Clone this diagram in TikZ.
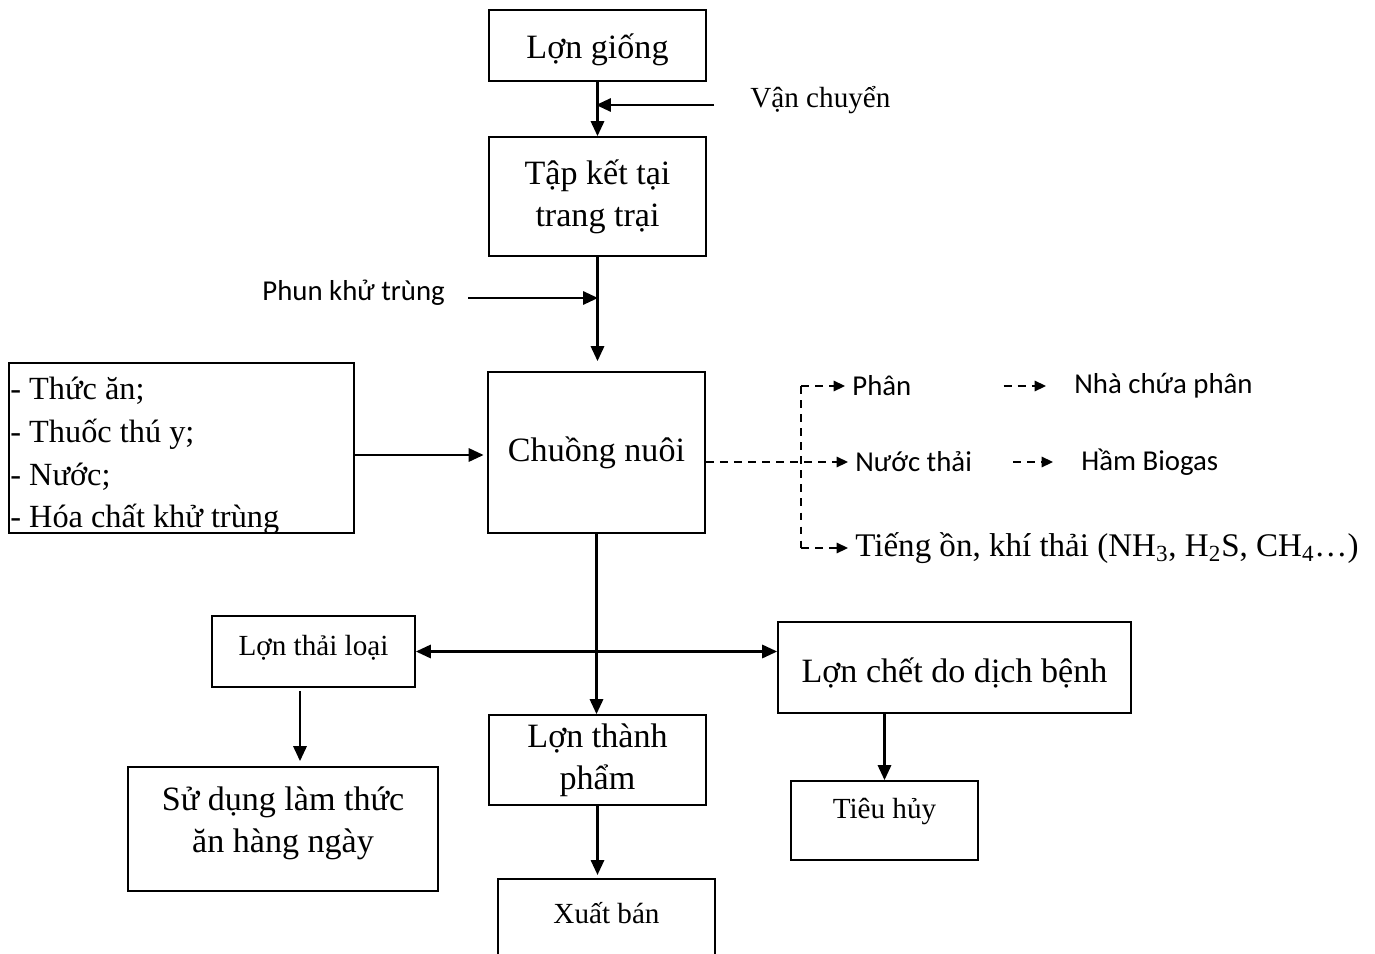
\documentclass[tikz,border=0pt]{standalone}
\usepackage{fontspec}
\setmainfont{Liberation Serif}
\newfontfamily\calibri{Carlito}
\usetikzlibrary{arrows.meta}

\newcommand{\bigtext}{\fontsize{19.4}{23.8}\selectfont}
\newcommand{\smalltext}{\fontsize{16.6}{20}\selectfont}
\newcommand{\listtext}{\fontsize{18.4}{24.2}\selectfont}
\newcommand{\caltext}{\calibri\fontsize{16.4}{20}\selectfont}

\begin{document}
\begin{tikzpicture}[x=0.02cm, y=-0.02cm,
    box/.style={draw, line width=1pt, inner sep=2pt, align=center, font=\bigtext},
    lbl/.style={anchor=west, inner sep=0pt},
    arr/.style={line width=1.4pt, -{Triangle[length=8.5pt,width=7.5pt]}},
    both/.style={line width=1.4pt, {Triangle[length=8.5pt,width=7.5pt]}-{Triangle[length=8.5pt,width=7.5pt]}},
    dline/.style={line width=0.9pt, dash pattern=on 4.5pt off 3.5pt},
    darr/.style={dline, -{Triangle[length=6.5pt,width=6pt]}, shorten >=0.14cm}]
    \useasboundingbox (0,0) rectangle (1375,953);

    % main chain
    \node[box, minimum width=4.34cm, text height=0.98cm, text depth=0.44cm, inner ysep=0pt] (giong) at (597.5,45.5) {Lợn giống};
    \node[box, minimum width=4.34cm, minimum height=2.38cm] (tapket) at (597.5,196.5) {Tập kết tại\\trang trại};
    \node[box, minimum width=4.34cm, minimum height=3.22cm] (chuong) at (596.5,452.5) {Chuồng nuôi};
    \node[box, minimum width=6.9cm, minimum height=3.4cm] (input) at (181.5,448) {};
    \node[lbl, align=left, text width=6.8cm, font=\listtext] (inputlist) at (10,456) {\spaceskip=0pt\xspaceskip=0pt - Thức ăn;\\- Thuốc thú y;\\- Nước;\\- Hóa chất khử trùng};

    \node[box, minimum width=4.06cm, text height=0.78cm, text depth=0.64cm, inner ysep=0pt, font=\smalltext] (thailoai) at (313.5,651.5) {Lợn thải loại};
    \node[box, minimum width=7.06cm, minimum height=1.82cm] (chet) at (954.5,667.5) {\rule{0pt}{0.72cm}Lợn chết do dịch bệnh};
    \node[box, minimum width=4.34cm, minimum height=1.8cm] (thanhpham) at (597.5,760) {Lợn thành\\phẩm};
    \node[box, minimum width=6.2cm, minimum height=2.48cm] (sudung) at (283,829) {Sử dụng làm thức\\ăn hàng ngày\rule[-0.39cm]{0pt}{0pt}};
    \node[box, minimum width=3.74cm, text height=0.74cm, text depth=0.84cm, inner ysep=0pt, font=\smalltext] (tieuhuy) at (884.5,820.5) {Tiêu hủy};
    \node[box, minimum width=4.34cm, text height=0.9cm, text depth=0.9cm, inner ysep=0pt, font=\smalltext, anchor=north] (xuatban) at (606.5,878) {Xuất bán};

    % side labels
    \node[lbl, font=\smalltext] (vanchuyen) at (750,100) {Vận chuyển};
    \node[lbl, font=\caltext] (phun) at (262,293) {Phun khử trùng};
    \node[lbl, font=\caltext] (phan) at (852,386) {Phân};
    \node[lbl, font=\caltext] (nhaphan) at (1074,386) {Nhà chứa phân};
    \node[lbl, font=\caltext] (nuocthai) at (855,462) {Nước thải};
    \node[lbl, font=\caltext] (biogas) at (1081,462) {Hầm Biogas};
    \node[lbl, font=\fontsize{18.8}{22}\selectfont] (khithai) at (855,548) {Tiếng ồn, khí thải (NH\textsubscript{3}, H\textsubscript{2}S, CH\textsubscript{4}…)};

    \coordinate (vc) at (596,105);
    \coordinate (pk) at (598,298);
    \coordinate (dtop) at (801,386);
    \coordinate (dbot) at (801,548);

    \draw[arr] (giong) -- (tapket);
    \draw[arr, shorten <=0.72cm] (vanchuyen.west |- vc) -- (vc);
    \draw[arr, shorten >=0.2cm] (tapket.south) -- (tapket.south |- chuong.north);
    \draw[arr, shorten <=0.46cm] (phun.east |- pk) -- (pk);
    \draw[arr, shorten >=2pt] ([yshift=-0.14cm]input.east) -- ([yshift=-0.14cm]input.east -| chuong.west);

    % waste streams
    \draw[darr] (chuong.east |- nuocthai.west) -- (nuocthai.west);
    \draw[dline] (dtop) -- (dbot);
    \draw[darr] (dtop) -- (phan.west);
    \draw[darr] (dbot) -- (khithai.west);
    \draw[darr, shorten <=1.84cm, shorten >=0.56cm] (phan.east) -- (nhaphan.west);
    \draw[darr, shorten <=0.82cm, shorten >=0.56cm] (nuocthai.east) -- (biogas.west);

    % outputs
    \draw[arr] (chuong.south) -- (chuong.south |- thanhpham.north);
    \draw[both] (thailoai.east) -- (thailoai.east -| chet.west);
    \draw[arr, shorten <=0.06cm, shorten >=0.1cm] ([xshift=-0.27cm]thailoai.south) -- ([xshift=-0.27cm]thailoai.south |- sudung.north);
    \draw[arr, shorten >=0.06cm] (thanhpham.south) -- (thanhpham.south |- xuatban.north);
    \draw[arr] (tieuhuy.north |- chet.south) -- (tieuhuy.north);
\end{tikzpicture}
\end{document}
